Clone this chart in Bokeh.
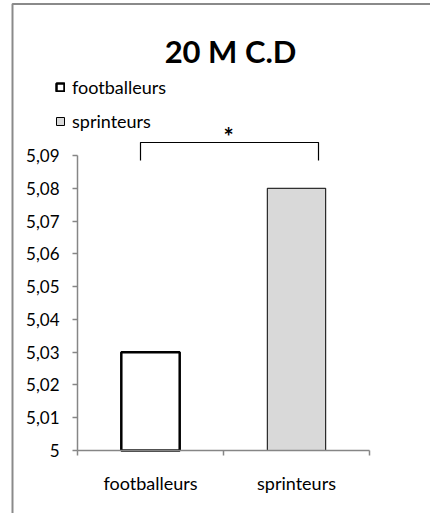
from bokeh.plotting import figure
from bokeh.models import (Range1d, FixedTicker, Legend, LegendItem, Label,
                          ColumnDataSource)
from bokeh.embed import file_html
from bokeh.resources import INLINE

# ---- data ----
categories = ["footballeurs", "sprinteurs"]
values = [5.03, 5.08]
y_ticks = [5.0, 5.01, 5.02, 5.03, 5.04, 5.05, 5.06, 5.07, 5.08, 5.09]
y_tick_labels = ["5", "5,01", "5,02", "5,03", "5,04", "5,05", "5,06", "5,07", "5,08", "5,09"]
title_text = "20 M C.D"
signif_text = "*"

# ---- style ----
FONT = "Lato"
AXIS_GRAY = "#868686"
BAR_GRAY = "#d9d9d9"

x_pos = [i + 0.5 for i in range(len(categories))]
y_base = y_ticks[0]

p = figure(width=430, height=513, title=None,
           x_range=Range1d(-0.5274, 2.4178), y_range=Range1d(4.98078, 5.13729),
           output_backend="svg", toolbar_location=None,
           min_border_left=0, min_border_right=0,
           min_border_top=0, min_border_bottom=0)
p.outline_line_color = None
p.xgrid.grid_line_color = None
p.ygrid.grid_line_color = None
p.background_fill_color = "white"
p.border_fill_color = "white"

# outer chart-area border (only its left and top edges fall in view)
p.line(x=[-0.4452, -0.4452, 3.0], y=[4.9, 5.13622, 5.13622],
       line_color="#8a8a8a", line_width=2)

src1 = ColumnDataSource(dict(x=[x_pos[0]], top=[values[0]]))
src2 = ColumnDataSource(dict(x=[x_pos[1]], top=[values[1]]))
r1 = p.vbar(x="x", top="top", bottom=y_base, width=0.4, source=src1,
            fill_color="white", line_color="black", line_width=2.5)
r2 = p.vbar(x="x", top="top", bottom=y_base, width=0.4, source=src2,
            fill_color=BAR_GRAY, line_color="black", line_width=1)

# x axis
xa = p.xaxis[0]
xa.fixed_location = y_base
xa.bounds = (0, len(categories))
xa.ticker = FixedTicker(ticks=x_pos, minor_ticks=list(range(len(categories) + 1)))
xa.major_label_overrides = {x: c for x, c in zip(x_pos, categories)}
xa.major_tick_out = 0
xa.major_tick_in = 0
xa.minor_tick_out = 5
xa.minor_tick_in = 0
xa.minor_tick_line_color = AXIS_GRAY
xa.minor_tick_line_width = 1.5
xa.axis_line_color = AXIS_GRAY
xa.axis_line_width = 1.5
xa.major_label_standoff = 16
xa.major_label_text_font = FONT
xa.major_label_text_font_size = "18px"
xa.major_label_text_color = "black"

# y axis
ya = p.yaxis[0]
ya.fixed_location = 0
ya.ticker = FixedTicker(ticks=y_ticks, minor_ticks=[])
ya.major_label_overrides = {t: l for t, l in zip(y_ticks, y_tick_labels)}
ya.bounds = (y_ticks[0], y_ticks[-1])
ya.major_tick_out = 5
ya.major_tick_in = 0
ya.major_tick_line_color = AXIS_GRAY
ya.major_tick_line_width = 1.5
ya.minor_tick_line_color = None
ya.axis_line_color = AXIS_GRAY
ya.axis_line_width = 1.5
ya.major_label_standoff = 13
ya.major_label_text_font = FONT
ya.major_label_text_font_size = "17px"
ya.major_label_text_color = "black"

# legend
legend = Legend(items=[LegendItem(label=categories[0], renderers=[r1]),
                       LegendItem(label=categories[1], renderers=[r2])],
                location=(55, 381), glyph_width=10, glyph_height=10,
                label_height=20, spacing=12, padding=0, margin=0,
                border_line_color=None, background_fill_alpha=0,
                label_standoff=7, label_text_font=FONT,
                label_text_font_size="18px", label_text_color="black")
p.add_layout(legend)

# title
p.add_layout(Label(x=1.048, y=5.12188, text=title_text, text_align="center",
                   text_baseline="middle", text_font=FONT, text_color="black",
                   text_font_style="bold", text_font_size="31px"))

# significance bracket
p.line(x=[0.4315, 0.4315, 1.6507, 1.6507], y=[5.08847, 5.09397, 5.09397, 5.08847],
       line_color="black", line_width=1.2, line_join="round")
p.add_layout(Label(x=1.0342, y=5.0958, text=signif_text, text_align="center",
                   text_baseline="middle", text_font=FONT, text_color="black",
                   text_font_style="bold", text_font_size="24px"))

open("out.html", "w").write(file_html(p, INLINE))
